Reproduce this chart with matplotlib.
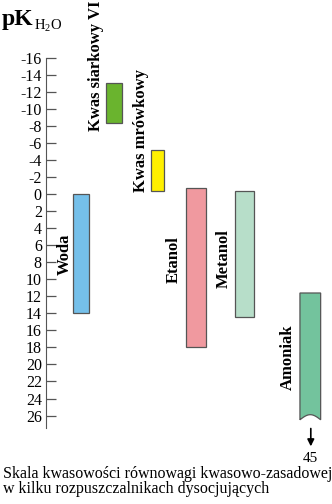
import numpy as np
import matplotlib.pyplot as plt
from matplotlib.patches import Polygon

plt.rcParams['font.family'] = ['Liberation Serif', 'DejaVu Serif']

solvents = ['Woda', 'Kwas siarkowy VI', 'Kwas mrówkowy', 'Etanol', 'Metanol', 'Amoniak']
top_pk = [0.0, -13.1, -5.2, -0.7, -0.4, 11.6]
bottom_pk = [14.0, -8.4, -0.4, 18.0, 14.4, 26.5]
colors = ['#75c0ea', '#6ab42e', '#fff000', '#f0999f', '#b7dec9', '#73c39d']
ticks = list(range(-16, 27, 2))
ammonia_end = 45

# layout (x measured in pixels from the axis line)
xpos = [35, 67.7, 111.5, 149.8, 198.5, 264.3]
widths = [16.6, 16, 13.6, 19.7, 19, 20.7]
label_x = [19, 50, 95, 128, 178, 241.5]
label_y = [9.5, -7.4, -0.3, 10.4, 11.0, 23.0]

W, H = 332, 504
fig = plt.figure(figsize=(W / 100, H / 100), dpi=100)
ax = fig.add_axes([46 / W, 34 / H, 286 / W, 470 / H])
ax.set_xlim(0, 286)
ax.set_ylim(32.4, -22.83)

for i, name in enumerate(solvents):
    x0 = xpos[i] - widths[i] / 2
    x1 = xpos[i] + widths[i] / 2
    if name == 'Amoniak':
        # torn bottom edge: the range continues down to 45
        xs = np.linspace(x1, x0, 20)
        ys = bottom_pk[i] - 0.6 * np.sin(np.pi * (xs - x0) / (x1 - x0))
        pts = [(x0, top_pk[i]), (x1, top_pk[i])] + list(zip(xs, ys))
        ax.add_patch(Polygon(pts, closed=True, facecolor=colors[i],
                             edgecolor='#555555', lw=0.9))
    else:
        ax.bar(xpos[i], bottom_pk[i] - top_pk[i], bottom=top_pk[i], width=widths[i],
               color=colors[i], edgecolor='#555555', lw=0.9)
    ax.text(label_x[i], label_y[i], name, rotation=90, ha='center', va='bottom',
            fontsize=12, fontweight='bold', clip_on=False)

ax.annotate('', xy=(xpos[5] + 0.5, 29.95), xytext=(xpos[5] + 0.5, 27.2),
            arrowprops=dict(arrowstyle='-|>', color='black', lw=1.2,
                            mutation_scale=10))
ax.text(xpos[5] + 0.5, 31.0, str(ammonia_end), ha='center', va='center', fontsize=11)

for s in ['top', 'right', 'bottom']:
    ax.spines[s].set_visible(False)
ax.spines['left'].set_bounds(-16, 27.5)
ax.spines['left'].set_color('#555555')
ax.set_yticks(ticks)
ax.set_yticklabels([str(t) for t in ticks])
ax.tick_params(axis='y', direction='in', length=7, width=0.9, color='#555555',
               labelsize=11.5, pad=3)
ax.set_xticks([])

fig.text(2 / W, 1 - 25 / H, 'pK', fontsize=17, fontweight='bold', va='baseline')
fig.text(34 / W, 1 - 30 / H, r'$\mathregular{H_2O}$', fontsize=10.5, va='baseline')

fig.text(3 / W, 1 - 478 / H, 'Skala kwasowości równowagi kwasowo-zasadowej',
         fontsize=11.5, va='baseline')
fig.text(3 / W, 1 - 493 / H, 'w kilku rozpuszczalnikach dysocjujących',
         fontsize=11.5, va='baseline')

fig.savefig('out.png', dpi=100)
